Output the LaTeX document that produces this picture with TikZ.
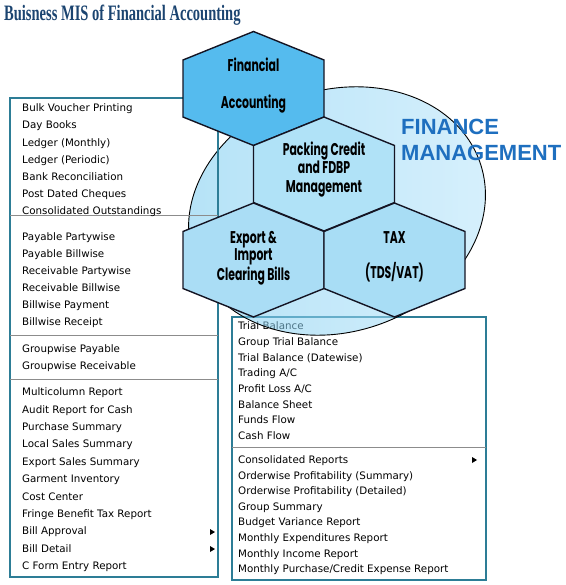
\documentclass[tikz,border=0pt]{standalone}
\usepackage{fontspec}
\setmainfont{DejaVu Sans}
\newfontfamily\titlefont{Liberation Serif}[FakeStretch=0.66]
\newfontfamily\hexfont{Poppins}[FakeStretch=0.64]
\newfontfamily\fmfont{Liberation Sans}
\definecolor{titleblue}{RGB}{27,68,112}
\definecolor{fmblue}{RGB}{30,111,191}
\definecolor{boxline}{RGB}{45,125,150}
\definecolor{sepgray}{RGB}{140,140,140}
\definecolor{ellL}{RGB}{118,202,240}
\definecolor{ellR}{RGB}{182,228,250}
\definecolor{hexdark}{RGB}{85,187,238}
\definecolor{hexpack}{RGB}{176,226,247}
\definecolor{hexexp}{RGB}{170,221,245}
\definecolor{hextax}{RGB}{168,221,245}
\definecolor{hexline}{RGB}{20,20,35}
\tikzset{
  mitem/.style={anchor=base west, inner sep=0pt, font=\fontsize{10.3}{12}\selectfont},
  menubox/.style={draw=boxline, line width=1.6pt},
  sepline/.style={draw=sepgray, line width=0.9pt},
  hexcell/.style={draw=hexline, line width=1.4pt, line join=miter},
  hextext/.style={anchor=base, inner sep=0pt, font=\hexfont\bfseries\fontsize{17}{20}\selectfont},
  fmtext/.style={anchor=base west, inner sep=0pt, text=fmblue, font=\fmfont\bfseries\fontsize{22}{26}\selectfont},
  menuarrow/.style={fill=black}
}
\begin{document}
\begin{tikzpicture}[x=1pt,y=-1pt]
\useasboundingbox (0,0) rectangle (565,585);
% title
\node[anchor=base west, inner sep=0pt, text=titleblue, font=\titlefont\bfseries\fontsize{22}{26}\selectfont] (title) at (4,20.5) {Buisness MIS of Financial Accounting};
% right menu box
\path[menubox, fill=white] (232,317) rectangle (486,580);
\coordinate (rs1) at (232,447);
\coordinate (rs2) at (486,447);
\draw[sepline] (rs1) -- (rs2);
\foreach \t [count=\i from 0] in {Trial Balance, Group Trial Balance, Trial Balance (Datewise), Trading A/C, Profit Loss A/C, Balance Sheet, Funds Flow, Cash Flow}
  \node[mitem] (ra\i) at (238,{329.7+15.7*\i}) {\t};
\foreach \t [count=\i from 0] in {Consolidated Reports, Orderwise Profitability (Summary), Orderwise Profitability (Detailed), Group Summary, Budget Variance Report, Monthly Expenditures Report, Monthly Income Report, Monthly Purchase/Credit Expense Report}
  \node[mitem] (rb\i) at (238,{463.7+15.57*\i}) {\t};
\fill[menuarrow] (472,457) -- (477,460) -- (472,463) -- cycle;
% ellipse
\path[draw=black, line width=0.9pt, left color=ellL, right color=ellR, fill opacity=0.55, rotate around={18:(337,211)}] (337,211) ellipse [x radius=151, y radius=121];
% left menu box
\draw[menubox] (10,98) rectangle (218,577);
\foreach \y in {215,335,379} {
  \draw[sepline] (10,\y) -- (218,\y);
}
\foreach \t [count=\i from 0] in {Bulk Voucher Printing, Day Books, Ledger (Monthly), Ledger (Periodic), Bank Reconciliation, Post Dated Cheques, Consolidated Outstandings}
  \node[mitem] (la\i) at (22,{111.7+17.2*\i}) {\t};
\foreach \t [count=\i from 0] in {Payable Partywise, Payable Billwise, Receivable Partywise, Receivable Billwise, Billwise Payment, Billwise Receipt}
  \node[mitem] (lb\i) at (22,{240.7+17.0*\i}) {\t};
\foreach \t [count=\i from 0] in {Groupwise Payable, Groupwise Receivable}
  \node[mitem] (lc\i) at (22,{352.7+17.0*\i}) {\t};
\foreach \t [count=\i from 0] in {Multicolumn Report, Audit Report for Cash, Purchase Summary, Local Sales Summary, Export Sales Summary, Garment Inventory, Cost Center, Fringe Benefit Tax Report, Bill Approval, Bill Detail, C Form Entry Report}
  \node[mitem] (ld\i) at (22,{395.7+17.4*\i}) {\t};
\fill[menuarrow] (210,529) -- (215,532) -- (210,535) -- cycle;
\fill[menuarrow] (210,546) -- (215,549) -- (210,552) -- cycle;
% hexagons
\draw[hexcell, fill=hexdark, shift={(253.5,88.5)}] (0,-57) -- (70.5,-28.5) -- (70.5,28.5) -- (0,57) -- (-70.5,28.5) -- (-70.5,-28.5) -- cycle;
\draw[hexcell, fill=hexpack, shift={(324,174)}] (0,-57) -- (70.5,-28.5) -- (70.5,28.5) -- (0,57) -- (-70.5,28.5) -- (-70.5,-28.5) -- cycle;
\draw[hexcell, fill=hexexp, shift={(253.5,260)}] (0,-57) -- (70.5,-28.5) -- (70.5,28.5) -- (0,57) -- (-70.5,28.5) -- (-70.5,-28.5) -- cycle;
\draw[hexcell, fill=hextax, shift={(394.5,260)}] (0,-57) -- (70.5,-28.5) -- (70.5,28.5) -- (0,57) -- (-70.5,28.5) -- (-70.5,-28.5) -- cycle;
% hexagon texts
\node[hextext] (fa1) at (253.5,72) {Financial};
\node[hextext] (fa2) at (253.5,109) {Accounting};
\node[hextext] (pc1) at (324,156) {Packing Credit};
\node[hextext] (pc2) at (324,174) {and FDBP};
\node[hextext] (pc3) at (324,193) {Management};
\node[hextext] (ex1) at (253.5,243) {Export \&};
\node[hextext] (ex2) at (253.5,260) {Import};
\node[hextext] (ex3) at (253.5,280) {Clearing Bills};
\node[hextext] (tx1) at (394.5,243) {TAX};
\node[hextext] (tx2) at (394.5,278) {(TDS/VAT)};
% finance management
\node[fmtext] (fm1) at (401,135) {FINANCE};
\node[fmtext] (fm2) at (401,161) {MANAGEMENT};
\end{tikzpicture}
\end{document}
